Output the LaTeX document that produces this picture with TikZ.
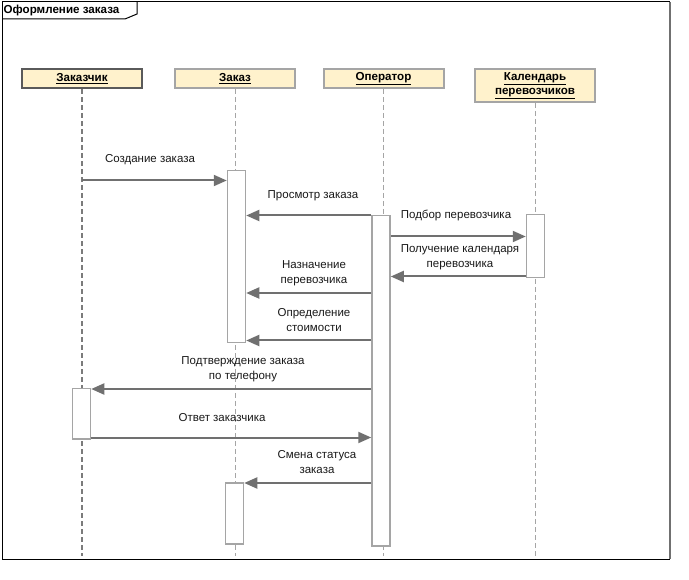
\documentclass[tikz,border=0pt]{standalone}
\usepackage{fontspec}
\setmainfont{Liberation Sans}
\usetikzlibrary{arrows.meta}
\definecolor{headfill}{RGB}{255,242,204}
\definecolor{msgcol}{RGB}{112,112,112}
\definecolor{actcol}{RGB}{165,165,165}
\definecolor{darkhead}{RGB}{90,90,90}
\begin{document}
\begin{tikzpicture}[x=1pt,y=-1pt,
  head/.style={draw=actcol, line width=2pt, fill=headfill, minimum width=120pt, minimum height=19pt, inner sep=0pt, font=\fontsize{11.6}{14}\selectfont\bfseries, align=center},
  lifeline/.style={draw=actcol, line width=1pt, dash pattern=on 5pt off 3pt},
  act/.style={draw=actcol, line width=1.5pt, fill=white, minimum width=18pt, inner sep=0pt, anchor=north},
  msg/.style={draw=msgcol, line width=2pt, -{Triangle[length=13pt,width=11pt]}},
  lbl/.style={font=\fontsize{11.5}{15}\selectfont, align=center, inner sep=0pt, text=black!90}
]
\useasboundingbox (0,0) rectangle (689,580);
% frame
\draw[line width=1pt] (2,559) -- (2,2) -- (670,2);
\draw[line width=1pt] (2,559) -- (670,559);
\draw[line width=2pt, draw=msgcol] (670,2) -- (670,559);
\draw[line width=1pt] (2,19) -- (125,19) -- (137,14) -- (137,2);
\node[anchor=west, inner sep=0pt, font=\fontsize{11.6}{13}\selectfont\bfseries] (title) at (3.5,11) {Оформление заказа};
% heads
\node[head, draw=darkhead, line width=2.5pt] (h1) at (82,78.5) {\underline{Заказчик}};
\node[head] (h2) at (235,78.5) {\underline{Заказ}};
\node[head] (h3) at (383.5,78.5) {\underline{Оператор}};
\node[head, minimum height=33pt] (h4) at (535,85.5) {\underline{Календарь}\\\underline{перевозчиков}};
% lifelines
\coordinate (e1) at (82,556);
\coordinate (e2) at (235,556);
\coordinate (e3) at (383.5,556);
\coordinate (e4) at (535,556);
\draw[lifeline, draw=darkhead!80, line width=1.6pt] (h1.south) -- (e1);
\draw[lifeline] (h2.south) -- (e2);
\draw[lifeline] (h3.south) -- (e3);
\draw[lifeline] (h4.south) -- (e4);
% activations
\node[act, minimum height=172pt] (a2) at (236.5,170) {};
\node[act, minimum height=330pt] (a3) at (381,215) {};
\node[act, minimum height=63pt] (a4) at (535.5,214) {};
\node[act, minimum height=50pt] (a1) at (81.5,388) {};
\node[act, minimum height=61pt] (a2b) at (234.5,482) {};
% messages
\draw[msg] (h1.south |- 0,180.5) -- (a2.west |- 0,180.5);
\node[lbl] (l1) at (150,160) {Создание заказа};
\draw[msg] (a3.west |- 0,215.5) -- (a2.east |- 0,215.5);
\node[lbl] (l2) at (313,196) {Просмотр заказа};
\draw[msg] (a3.east |- 0,236.5) -- (a4.west |- 0,236.5);
\node[lbl] (l3) at (456,215) {Подбор перевозчика};
\draw[msg] (a4.west |- 0,276.5) -- (a3.east |- 0,276.5);
\node[lbl] (l4) at (460,257.5) {Получение календаря\\перевозчика};
\draw[msg] (a3.west |- 0,293) -- (a2.east |- 0,293);
\node[lbl] (l5) at (314,273.5) {Назначение\\перевозчика};
\draw[msg] (a3.west |- 0,340.5) -- (a2.east |- 0,340.5);
\node[lbl] (l6) at (314,320.5) {Определение\\стоимости};
\draw[msg] (a3.west |- 0,389) -- (a1.east |- 0,389);
\node[lbl] (l7) at (243,369.5) {Подтверждение заказа\\по телефону};
\draw[msg] (a1.east |- 0,437.5) -- (a3.west |- 0,437.5);
\node[lbl] (l8) at (222,418) {Ответ заказчика};
\draw[msg] (a3.west |- 0,483) -- (a2b.east |- 0,483);
\node[lbl] (l9) at (317,462.5) {Смена статуса\\заказа};
\end{tikzpicture}
\end{document}
